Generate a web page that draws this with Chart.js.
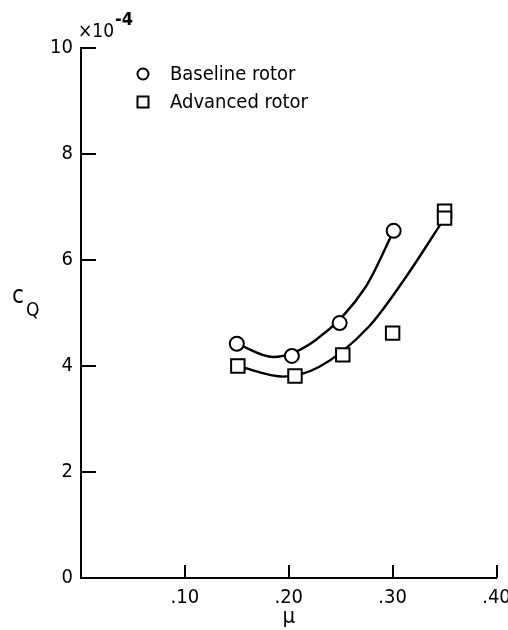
<!DOCTYPE html>
<html>
<head>
<meta charset="utf-8">
<script src="https://cdn.jsdelivr.net/npm/chart.js@4"></script>
<style>
  body { margin: 0; background: #fff; }
  #wrap { width: 508px; height: 630px; }
</style>
</head>
<body>
<div id="wrap"><canvas id="chart"></canvas></div>
<script>
// measured points
let muBase = [0.150, 0.203, 0.249, 0.301]
let cqBase = [4.42, 4.19, 4.81, 6.55]
let muAdv = [0.151, 0.206, 0.252, 0.300, 0.350, 0.350]
let cqAdv = [4.00, 3.81, 4.21, 4.62, 6.92, 6.79]

// faired curves
let muBaseCurve = [0.150, 0.185, 0.226, 0.274, 0.301]
let cqBaseCurve = [4.42, 4.17, 4.49, 5.49, 6.55]
let muAdvCurve = [0.151, 0.195, 0.229, 0.277, 0.309, 0.350]
let cqAdvCurve = [4.00, 3.80, 3.98, 4.74, 5.57, 6.79]

let xTicks = [0.10, 0.20, 0.30, 0.40]
let xTickLabels = ['.10', '.20', '.30', '.40']
let yTicks = [0, 2, 4, 6, 8, 10]
let seriesNames = ['Baseline rotor', 'Advanced rotor']

let font = "'Liberation Sans Narrow', 'DejaVu Sans Condensed', sans-serif"

let pts = (xs, ys) => xs.map((x, i) => ({x: x, y: ys[i]}))

// ticks drawn inward + the odd labels
let extras = {
  id: 'extras',
  afterDraw(chart) {
    let ctx = chart.ctx
    let xs = chart.scales.x, ys = chart.scales.y
    let a = chart.chartArea
    ctx.save()
    ctx.strokeStyle = '#000'
    ctx.lineWidth = 2
    ctx.beginPath()
    xTicks.forEach(t => {
      let px = Math.round(xs.getPixelForValue(t))
      ctx.moveTo(px, a.bottom)
      ctx.lineTo(px, a.bottom - 13)
    })
    yTicks.forEach(t => {
      if (t === 0) return
      let py = Math.round(ys.getPixelForValue(t))
      ctx.moveTo(a.left, py)
      ctx.lineTo(a.left + 15, py)
    })
    ctx.stroke()

    ctx.fillStyle = '#000'
    // exponent
    ctx.font = '19px ' + font
    ctx.textBaseline = 'middle'
    ctx.textAlign = 'left'
    ctx.fillText('\u00d710', 78, 32)
    ctx.font = 'bold 18px ' + font
    ctx.fillText('-4', 115, 20)

    // axis titles
    ctx.font = '24px ' + font
    ctx.fillText('c', 12, 297)
    ctx.font = '19px ' + font
    ctx.fillText('Q', 26, 311)
    ctx.font = '22px ' + font
    ctx.textAlign = 'center'
    ctx.fillText('\u03bc', xs.getPixelForValue(0.20), 617)

    // key
    ctx.font = '20px ' + font
    ctx.textAlign = 'left'
    ctx.lineWidth = 2
    ctx.beginPath()
    ctx.arc(143, 74, 5.5, 0, Math.PI * 2)
    ctx.stroke()
    ctx.strokeRect(137.5, 96.5, 11, 11)
    ctx.fillText(seriesNames[0], 170, 75)
    ctx.fillText(seriesNames[1], 170, 103)
    ctx.restore()
  }
}

let ctx = document.getElementById('chart').getContext('2d')
let myChart = new Chart(ctx, {
  type: 'scatter',
  data: {
    datasets: [
      {
        label: 'base curve',
        data: pts(muBaseCurve, cqBaseCurve),
        showLine: true,
        borderColor: '#000',
        borderWidth: 2.4,
        pointRadius: 0,
        cubicInterpolationMode: 'monotone',
        order: 3
      },
      {
        label: 'adv curve',
        data: pts(muAdvCurve, cqAdvCurve),
        showLine: true,
        borderColor: '#000',
        borderWidth: 2.4,
        pointRadius: 0,
        cubicInterpolationMode: 'monotone',
        order: 3
      },
      {
        label: seriesNames[0],
        data: pts(muBase, cqBase),
        pointStyle: 'circle',
        pointRadius: 7,
        pointBorderWidth: 2,
        borderColor: '#000',
        backgroundColor: '#fff',
        order: 1
      },
      {
        label: seriesNames[1],
        data: pts(muAdv, cqAdv),
        pointStyle: 'rect',
        pointRadius: 9.5,
        pointBorderWidth: 2,
        borderColor: '#000',
        backgroundColor: '#fff',
        order: 1
      }
    ]
  },
  options: {
    responsive: true,
    maintainAspectRatio: false,
    animation: false,
    layout: { padding: { top: 48, right: 10, left: 0, bottom: 0 } },
    plugins: { legend: { display: false }, tooltip: { enabled: false } },
    scales: {
      x: {
        type: 'linear',
        min: 0,
        max: 0.40,
        afterBuildTicks: s => { s.ticks = xTicks.map(v => ({value: v})) },
        afterFit: s => { s.height = 52; s.paddingRight = 0; s.paddingLeft = 0 },
        grid: { display: false, drawTicks: false },
        border: { display: true, color: '#000', width: 2 },
        ticks: {
          color: '#000',
          padding: 8,
          font: { family: font, size: 20 },
          callback: (v, i) => xTickLabels[i]
        }
      },
      y: {
        min: 0,
        max: 10,
        afterBuildTicks: s => { s.ticks = yTicks.map(v => ({value: v})) },
        afterFit: s => { s.width = 81; s.paddingTop = 0; s.paddingBottom = 0 },
        grid: { display: false, drawTicks: false },
        border: { display: true, color: '#000', width: 2 },
        ticks: {
          color: '#000',
          padding: 8,
          font: { family: font, size: 20 }
        }
      }
    }
  },
  plugins: [extras]
})
</script>
</body>
</html>
